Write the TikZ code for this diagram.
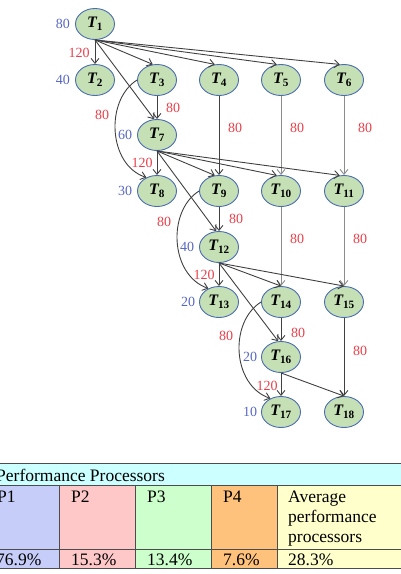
\documentclass[tikz,border=0pt]{standalone}
\usepackage{fontspec}
\setmainfont{Liberation Serif}
\usetikzlibrary{arrows.meta, shapes.geometric}

\definecolor{taskfill}{HTML}{C5E0B4}
\definecolor{taskline}{HTML}{4A6BB5}
\definecolor{costblue}{HTML}{5868C0}
\definecolor{commred}{HTML}{E8404A}
\definecolor{hdrfill}{HTML}{CCFFFF}
\definecolor{pafill}{HTML}{C6CDF8}
\definecolor{pbfill}{HTML}{FFC8C8}
\definecolor{pcfill}{HTML}{CCFFCC}
\definecolor{pdfill}{HTML}{FFC27C}
\definecolor{avgfill}{HTML}{FFFFCC}

\newcommand{\tk}[1]{T\textsubscript{\upshape #1}}

\tikzset{
  task/.style={ellipse, draw=taskline, fill=taskfill, line width=0.9pt,
    minimum width=39pt, minimum height=31pt, inner sep=0pt,
    font=\fontsize{16}{18}\selectfont\bfseries\itshape},
  dep/.style={draw=black!75, line width=0.9pt, -{Straight Barb[length=5pt,width=8pt]}},
  deplight/.style={dep, draw=black!45},
  cost/.style={text=costblue, font=\fontsize{14}{16}\selectfont},
  comm/.style={text=commred, font=\fontsize{14}{16}\selectfont},
  cell/.style={draw=black!70, line width=0.8pt},
  celltext/.style={anchor=base west, inner sep=0pt, align=left,
    font=\fontsize{17.5}{20}\selectfont}
}

\begin{document}
\begin{tikzpicture}[x=1pt, y=-1pt]
        \useasboundingbox (0,0) rectangle (400,574);

        % tasks
        \node[task] (t1) at (95,24) {\tk{1}};
        \node[task] (t2) at (95,80) {\tk{2}};
        \node[task] (t3) at (157,80) {\tk{3}};
        \node[task] (t4) at (219,80) {\tk{4}};
        \node[task] (t5) at (281,80) {\tk{5}};
        \node[task] (t6) at (344,80) {\tk{6}};
        \node[task] (t7) at (157,135) {\tk{7}};
        \node[task] (t8) at (157,191) {\tk{8}};
        \node[task] (t9) at (219,191) {\tk{9}};
        \node[task] (t10) at (281,191) {\tk{10}};
        \node[task] (t11) at (344,191) {\tk{11}};
        \node[task] (t12) at (219,247) {\tk{12}};
        \node[task] (t13) at (219,302) {\tk{13}};
        \node[task] (t14) at (281,302) {\tk{14}};
        \node[task] (t15) at (344,302) {\tk{15}};
        \node[task] (t16) at (281,357) {\tk{16}};
        \node[task] (t17) at (281,412) {\tk{17}};
        \node[task] (t18) at (344,412) {\tk{18}};

        % computation costs
        \node[cost] (c1) at (63,24) {80};
        \node[cost] (c2) at (63,80) {40};
        \node[cost] (c7) at (125,135) {60};
        \node[cost] (c8) at (125,191) {30};
        \node[cost] (c12) at (187,247) {40};
        \node[cost] (c13) at (188,302) {20};
        \node[cost] (c16) at (250,357) {20};
        \node[cost] (c17) at (250,412) {10};

        % dependencies
        \draw[dep] (t1.south) -- (t2.north);
        \draw[dep] (t1.south) -- (t3.105);
        \draw[dep] (t1.south) -- (t4.105);
        \draw[dep] (t1.south) -- (t5.105);
        \draw[dep] (t1.south) -- (t6.105);
        \draw[dep] (t1.south) -- (t7.100);
        \draw[dep] (t3.south) -- (t7.north);
        \draw[dep] (t3.west) .. controls (105,100) and (108,165) .. (t8.128);
        \draw[dep] (t4.south) -- (t9.north);
        \draw[deplight] (t5.south) -- (t10.north);
        \draw[deplight] (t6.south) -- (t11.north);
        \draw[dep] (t7.south) -- (t8.north);
        \draw[dep] (t7.south) -- (t9.105);
        \draw[dep] (t7.south) -- (t10.105);
        \draw[dep] (t7.south) -- (t11.105);
        \draw[dep] (t7.south) -- (t12.100);
        \draw[dep] (t9.south) -- (t12.north);
        \draw[dep] (t9.west) .. controls (167,211) and (170,275) .. (t13.128);
        \draw[deplight] (t10.south) -- (t14.north);
        \draw[deplight] (t11.south) -- (t15.north);
        \draw[dep] (t12.south) -- (t13.north);
        \draw[dep] (t12.south) -- (t14.north);
        \draw[dep] (t12.south) -- (t15.north);
        \draw[dep] (t12.south) -- (t16.100);
        \draw[dep] (t14.south) -- (t16.north);
        \draw[dep] (t14.west) .. controls (229,322) and (232,385) .. (t17.128);
        \draw[dep] (t15.south) -- (t18.north);
        \draw[dep] (t16.south) -- (t17.north);
        \draw[dep] (t16.south) -- (t18.north);

        % communication costs
        \node[comm] (m12) at (79,53) {120};
        \node[comm] (m38) at (102,115) {80};
        \node[comm] (m37) at (173,108) {80};
        \node[comm] (m49) at (235,128) {80};
        \node[comm] (m510) at (297,128) {80};
        \node[comm] (m611) at (365,128) {80};
        \node[comm] (m78) at (142,163) {120};
        \node[comm] (m913) at (164,222) {80};
        \node[comm] (m912) at (236,219) {80};
        \node[comm] (m1014) at (297,239) {80};
        \node[comm] (m1115) at (360,239) {80};
        \node[comm] (m1213) at (204,275) {120};
        \node[comm] (m1417) at (226,336) {80};
        \node[comm] (m1416) at (298,333) {80};
        \node[comm] (m1518) at (360,351) {80};
        \node[comm] (m1617) at (267,386) {120};

        % table
        \draw[cell, fill=hdrfill] (-14,463) rectangle (402,485);
        \draw[cell, fill=pafill] (-14,485) rectangle (59,568);
        \draw[cell, fill=pbfill] (59,485) rectangle (135,568);
        \draw[cell, fill=pcfill] (135,485) rectangle (211,568);
        \draw[cell, fill=pdfill] (211,485) rectangle (277,568);
        \draw[cell, fill=avgfill] (277,485) rectangle (402,568);
        \draw[cell] (-14,549) -- (402,549);

        \node[celltext] (hdr) at (-4,481) {Performance Processors};
        \node[celltext] (pa) at (-3,502) {P1};
        \node[celltext] (pb) at (71,502) {P2};
        \node[celltext] (pc) at (147,502) {P3};
        \node[celltext] (pd) at (223,502) {P4};
        \node[celltext] (avg) at (288,502) {Average};
        \node[celltext] (avgb) at (288,522) {performance};
        \node[celltext] (avgc) at (288,542) {processors};
        \node[celltext] (va) at (-4,565) {76.9\%};
        \node[celltext] (vb) at (71,565) {15.3\%};
        \node[celltext] (vc) at (147,565) {13.4\%};
        \node[celltext] (vd) at (223,565) {7.6\%};
        \node[celltext] (vavg) at (288,565) {28.3\%};
    \end{tikzpicture}
\end{document}
